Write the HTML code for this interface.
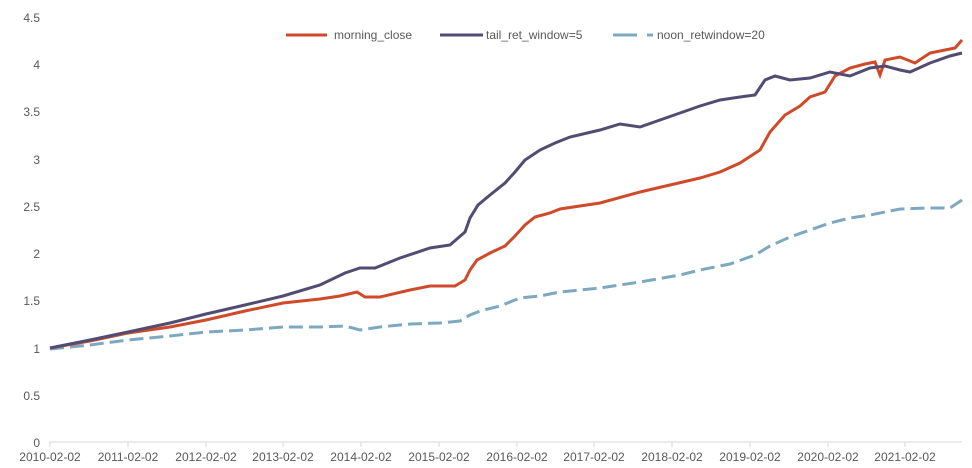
<!DOCTYPE html>
<html><head><meta charset="utf-8"><style>
html,body{margin:0;padding:0;background:#fff;}
svg{display:block;font-family:"Liberation Sans",Arial,sans-serif;}
</style></head><body>
<svg width="972" height="468" viewBox="0 0 972 468" xmlns="http://www.w3.org/2000/svg">
<g fill="#595959" font-size="12" text-anchor="end">
<text x="40" y="22">4.5</text>
<text x="40" y="69">4</text>
<text x="40" y="116">3.5</text>
<text x="40" y="164">3</text>
<text x="40" y="211">2.5</text>
<text x="40" y="258">2</text>
<text x="40" y="305">1.5</text>
<text x="40" y="353">1</text>
<text x="40" y="400">0.5</text>
<text x="40" y="447">0</text>
</g>
<line x1="49" y1="442" x2="962" y2="442" stroke="#d9d9d9" stroke-width="1"/>
<g stroke="#d9d9d9">
<line x1="50" y1="442" x2="50" y2="447"/><line x1="128" y1="442" x2="128" y2="447"/><line x1="206" y1="442" x2="206" y2="447"/><line x1="283" y1="442" x2="283" y2="447"/><line x1="361" y1="442" x2="361" y2="447"/><line x1="439" y1="442" x2="439" y2="447"/><line x1="517" y1="442" x2="517" y2="447"/><line x1="594" y1="442" x2="594" y2="447"/><line x1="672" y1="442" x2="672" y2="447"/><line x1="750" y1="442" x2="750" y2="447"/><line x1="828" y1="442" x2="828" y2="447"/><line x1="905" y1="442" x2="905" y2="447"/>
</g>
<g fill="#595959" font-size="12" text-anchor="middle">
<text x="50" y="461">2010-02-02</text><text x="128" y="461">2011-02-02</text><text x="206" y="461">2012-02-02</text><text x="283" y="461">2013-02-02</text><text x="361" y="461">2014-02-02</text><text x="439" y="461">2015-02-02</text><text x="517" y="461">2016-02-02</text><text x="594" y="461">2017-02-02</text><text x="672" y="461">2018-02-02</text><text x="750" y="461">2019-02-02</text><text x="828" y="461">2020-02-02</text><text x="905" y="461">2021-02-02</text>
</g>
<polyline fill="none" stroke="#7ca8c0" stroke-width="3" stroke-dasharray="14,6" points="50,349 90,345 128,340 170,336 206,332 245,330 283,327 320,327 345,326 360,330 380,327 410,324 440,323 460,321 470,315 480,311 500,306 520,298 540,296 560,292 600,288 640,282 680,275 700,270 730,264 755,255 770,246 790,237 810,230 830,223 850,218 870,215 900,209 930,208 950,208 962,200"/>
<polyline fill="none" stroke="#d04a2a" stroke-width="3" points="50,348 90,341 128,333 170,327 206,320 245,311 283,303 320,299 340,296 357,292 365,297 380,297 410,290 430,286 455,286 465,280 470,270 477,260 490,253 505,246 515,236 525,225 535,217 550,213 560,209 600,203 640,192 670,185 700,178 720,172 740,163 760,150 770,132 785,115 800,106 810,97 825,92 835,76 850,68 865,64 875,62 880,75 885,60 900,57 915,63 930,53 945,50 955,48 962,40"/>
<polyline fill="none" stroke="#524c72" stroke-width="3" points="50,348 90,340 128,332 170,323 206,314 245,305 283,296 320,285 345,273 360,268 375,268 400,258 430,248 450,245 465,232 470,218 478,205 490,195 505,183 515,172 525,160 540,150 555,143 570,137 600,130 620,124 640,127 660,120 680,113 700,106 720,100 740,97 755,95 765,80 775,76 790,80 810,78 830,72 850,76 870,68 885,66 900,70 910,72 930,63 950,56 962,53"/>
<line x1="286" y1="35" x2="327" y2="35" stroke="#d04a2a" stroke-width="3"/>
<text x="334" y="39" font-size="12" fill="#595959">morning_close</text>
<line x1="440" y1="35" x2="483" y2="35" stroke="#524c72" stroke-width="3"/>
<text x="486" y="39" font-size="12" fill="#595959">tail_ret_window=5</text>
<line x1="613" y1="35" x2="637" y2="35" stroke="#7ca8c0" stroke-width="3"/>
<line x1="647" y1="35" x2="653" y2="35" stroke="#7ca8c0" stroke-width="3"/>
<text x="657" y="39" font-size="12" fill="#595959">noon_retwindow=20</text>
</svg>
</body></html>
